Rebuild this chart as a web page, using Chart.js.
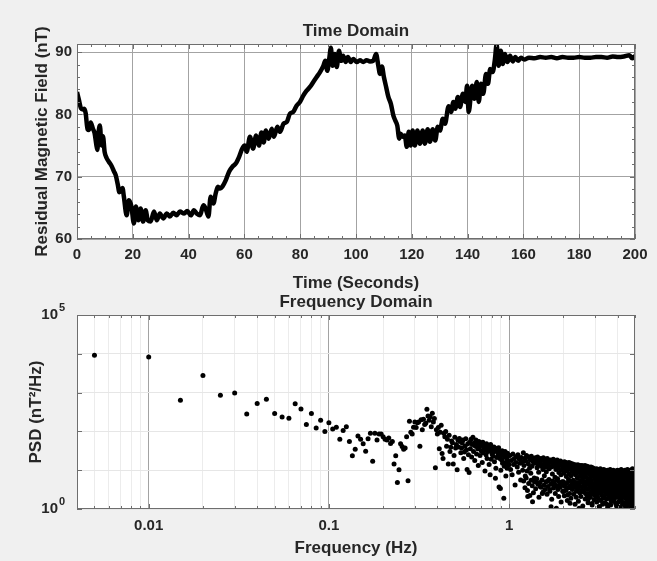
<!DOCTYPE html>
<html><head><meta charset="utf-8">
<script src="https://cdn.jsdelivr.net/npm/chart.js@4.4.1/dist/chart.umd.min.js"></script>
<style>
html,body{margin:0;padding:0;background:#f0f0f0;}
#wrap{position:relative;width:657px;height:561px;overflow:hidden;background:#f0f0f0}
#c1{position:absolute;left:0;top:0}
#c2{position:absolute;left:0;top:287px}
</style></head><body>
<div id="wrap"><canvas id="c1" width="657" height="295"></canvas><canvas id="c2" width="657" height="274"></canvas></div>
<script>
// ---------- Time domain data (seconds, nT) ----------
const timeSec = [0,0.7,1.4,2.1,2.6,3.1,3.8,4.3,4.9,5.7,6.3,6.9,7.3,7.7,8.2,8.8,9.3,9.9,10.6,11.4,
12.3,13.2,13.9,14.6,15.2,15.8,16.3,16.8,17.8,18.6,19.5,20.4,21.1,22.0,22.8,23.7,24.6,25.4,26.4,27.6,
28.6,29.7,30.9,32.2,33.3,34.5,35.7,36.9,38.4,39.5,40.8,41.9,42.9,44.1,45.3,46.1,47.1,47.9,48.9,49.7,
50.5,51.3,52.1,53.3,54.5,55.7,56.9,58.1,59.2,60.1,60.8,62.0,63.1,64.2,65.2,66.1,66.9,67.7,68.7,69.8,
70.6,71.8,72.8,74.0,75.2,76.3,77.5,78.7,79.9,81.1,82.3,83.5,84.7,85.9,87.1,88.3,89.0,89.7,90.4,91.0,
91.6,92.4,93.1,93.9,94.7,95.4,96.3,97.1,98.1,99.0,100.3,101.4,102.6,103.8,105.0,106.2,107.2,108.0,108.6,109.3,
110.0,110.8,111.6,112.5,113.4,114.1,114.8,115.5,116.0,116.7,117.5,118.2,118.9,119.6,120.3,121.1,122.0,122.9,123.9,124.7,
125.7,126.5,127.5,128.4,129.3,130.1,131.1,131.9,133.2,134.1,134.9,135.6,136.5,137.3,138.3,139.2,139.8,140.4,141.6,142.4,
143.3,144.0,144.8,145.6,146.6,147.3,148.1,149.0,149.8,150.4,151.1,151.9,152.6,153.4,154.3,155.2,156.2,157.1,158.1,159.1,
160.3,162,164,166,168,170,172,174,176,178,180,182,184,186,188,190,192,194,196,198,199,200];
const fieldNT = [83.6,82.3,81.0,80.8,80.9,80.2,77.6,77.5,78.7,77.7,77.0,75.2,74.3,77.0,78.2,75.0,76.5,74.0,73.0,72.4,
71.8,70.9,70.2,68.8,67.5,67.8,68.2,66.8,63.8,66.2,65.2,62.5,65.2,63.0,64.9,62.8,64.6,63.0,62.8,64.4,
63.0,64.1,63.3,64.1,63.6,64.2,63.8,64.4,64.1,64.5,63.8,64.6,64.1,63.8,65.4,64.9,63.6,66.8,65.7,67.3,
68.4,68.1,68.4,69.4,70.8,71.6,72.1,73.2,74.5,75.0,74.0,76.4,74.5,76.6,75.0,77.1,75.5,77.4,76.1,77.7,
76.4,78.0,77.2,78.5,78.8,80.1,80.4,81.4,82.0,83.0,83.8,84.4,85.2,86.0,86.8,87.8,88.6,87.0,88.9,90.7,
87.8,89.7,87.6,90.2,88.6,89.4,88.4,89.2,88.4,88.9,88.4,88.7,88.4,88.7,88.5,88.6,89.7,87.8,86.5,87.7,
86.0,84.4,82.8,81.7,79.8,79.0,78.2,76.1,76.9,76.4,76.6,74.8,77.2,75.0,77.4,75.0,77.4,75.3,77.4,75.3,
77.6,75.6,77.6,75.8,78.0,77.4,79.3,78.5,81.3,80.4,82.0,80.9,82.8,81.2,83.3,82.0,84.6,80.4,84.6,82.5,
85.2,82.0,84.9,83.3,86.5,84.9,87.3,86.8,88.9,91.2,87.8,90.2,88.1,89.7,88.4,89.4,88.5,89.2,88.6,89.1,
88.8,89.1,89.0,89.2,89.1,89.2,89.0,89.2,89.1,89.1,89.2,89.1,89.1,89.2,89.2,89.1,89.3,89.2,89.3,89.5,89.0,89.4];
const timeTicks = [0,20,40,60,80,100,120,140,160,180,200];
const fieldTicks = [60,70,80,90];

// ---------- Frequency domain data (Hz, log10 of PSD in nT^2/Hz) ----------
const psdFreqLow = [0.005,0.01,0.015,0.02,0.025,0.03,0.035,0.04,0.045,0.05,
0.055,0.06,0.065,0.07,0.075,0.08,0.085,0.09,0.095,0.1,
0.105,0.11,0.115,0.12,0.125,0.13,0.135,0.14,0.145,0.15,
0.155,0.16,0.165,0.17,0.175,0.18,0.185,0.19,0.195,0.2];
const psdExpLow = [3.96,3.92,2.80,3.44,2.93,2.99,2.45,2.72,2.83,2.46,
2.37,2.34,2.71,2.58,2.18,2.46,2.09,2.29,2.00,2.22,
2.06,2.11,1.80,2.02,2.12,1.74,1.37,1.54,1.88,1.80,
1.68,1.49,1.81,1.95,1.23,1.95,1.78,1.93,1.93,1.86];
const psdFreqMid = [0.205,0.21,0.215,0.22,0.225,0.23,0.235,0.24,0.245,0.25,
0.255,0.26,0.265,0.27,0.275,0.28,0.285,0.29,0.295,0.3,
0.305,0.31,0.315,0.32,0.325,0.33,0.335,0.34,0.345,0.35,
0.355,0.36,0.365,0.37,0.375,0.38,0.385,0.39,0.395,0.4,
0.405,0.41,0.415,0.42,0.425,0.43,0.435,0.44,0.445,0.45,
0.455,0.46,0.465,0.47,0.475,0.48,0.485,0.49,0.495,0.5,
0.505,0.51,0.515,0.52,0.525,0.53,0.535,0.54,0.545,0.55,
0.555,0.56,0.565,0.57,0.575,0.58,0.585,0.59,0.595,0.6,
0.605,0.61,0.615,0.62,0.625,0.63,0.635,0.64,0.645,0.65,
0.655,0.66,0.665,0.67,0.675,0.68,0.685,0.69,0.695,0.7,
0.705,0.71,0.715,0.72,0.725,0.73,0.735,0.74,0.745,0.75,
0.755,0.76,0.765,0.77,0.775,0.78,0.785,0.79,0.795,0.8,
0.805,0.81,0.815,0.82,0.825,0.83,0.835,0.84,0.845,0.85,
0.855,0.86,0.865,0.87,0.875,0.88,0.885,0.89,0.895,0.9,
0.905,0.91,0.915,0.92,0.925,0.93,0.935,0.94,0.945,0.95,
0.955,0.96,0.965,0.97,0.975,0.98,0.985,0.99,0.995,1.0];
const psdExpMid = [1.80,1.78,1.83,1.69,1.74,1.16,1.37,0.68,1.01,1.68,
1.61,1.54,1.57,1.86,0.73,2.26,1.98,1.93,2.11,2.24,
2.10,2.22,2.24,1.62,2.30,2.04,2.31,2.18,2.21,2.57,
2.40,2.29,2.38,2.12,2.47,2.24,2.33,1.06,2.04,1.93,
2.10,1.55,1.98,2.16,1.43,1.30,1.95,1.86,2.00,1.62,
1.80,1.16,1.90,1.48,1.59,1.75,1.71,1.16,1.38,1.85,
1.57,1.66,1.01,1.78,1.60,1.82,1.74,1.45,1.57,1.70,
1.78,1.30,1.47,1.62,1.81,1.52,1.02,1.68,1.40,0.94,
1.72,1.55,1.80,1.34,1.66,1.85,1.48,1.70,1.25,1.62,
1.78,1.42,1.68,1.55,1.12,1.74,1.60,1.38,1.70,1.50,
1.64,1.20,1.72,1.45,1.58,1.66,0.98,1.52,1.40,1.68,
1.30,1.60,1.48,1.62,1.15,1.55,0.88,1.66,1.28,1.50,
1.42,1.58,1.36,1.46,1.60,1.22,1.52,0.79,1.05,1.56,
1.33,1.48,1.36,1.44,1.58,0.57,1.46,1.30,0.53,1.00,
1.40,1.26,1.50,1.18,1.38,1.46,0.28,1.10,1.34,1.48,
1.20,0.85,1.42,1.30,1.05,1.44,1.24,1.12,1.38,1.15];
const psdFreqHigh = [
1.01,1.02,1.03,1.04,1.05,1.06,1.07,1.08,1.09,1.10,1.11,1.12,1.13,1.14,1.15,1.16,1.17,1.18,1.19,1.20,
1.21,1.22,1.23,1.24,1.25,1.26,1.27,1.28,1.29,1.30,1.31,1.32,1.33,1.34,1.35,1.36,1.37,1.38,1.39,1.40,
1.41,1.42,1.43,1.44,1.45,1.46,1.47,1.48,1.49,1.50,1.51,1.52,1.53,1.54,1.55,1.56,1.57,1.58,1.59,1.60,
1.61,1.62,1.63,1.64,1.65,1.66,1.67,1.68,1.69,1.70,1.71,1.72,1.73,1.74,1.75,1.76,1.77,1.78,1.79,1.80,
1.81,1.82,1.83,1.84,1.85,1.86,1.87,1.88,1.89,1.90,1.91,1.92,1.93,1.94,1.95,1.96,1.97,1.98,1.99,2.00,
2.01,2.02,2.03,2.04,2.05,2.06,2.07,2.08,2.09,2.10,2.11,2.12,2.13,2.14,2.15,2.16,2.17,2.18,2.19,2.20,
2.21,2.22,2.23,2.24,2.25,2.26,2.27,2.28,2.29,2.30,2.31,2.32,2.33,2.34,2.35,2.36,2.37,2.38,2.39,2.40,
2.41,2.42,2.43,2.44,2.45,2.46,2.47,2.48,2.49,2.50,2.51,2.52,2.53,2.54,2.55,2.56,2.57,2.58,2.59,2.60,
2.61,2.62,2.63,2.64,2.65,2.66,2.67,2.68,2.69,2.70,2.71,2.72,2.73,2.74,2.75,2.76,2.77,2.78,2.79,2.80,
2.81,2.82,2.83,2.84,2.85,2.86,2.87,2.88,2.89,2.90,2.91,2.92,2.93,2.94,2.95,2.96,2.97,2.98,2.99,3.00,
3.01,3.02,3.03,3.04,3.05,3.06,3.07,3.08,3.09,3.10,3.11,3.12,3.13,3.14,3.15,3.16,3.17,3.18,3.19,3.20,
3.21,3.22,3.23,3.24,3.25,3.26,3.27,3.28,3.29,3.30,3.31,3.32,3.33,3.34,3.35,3.36,3.37,3.38,3.39,3.40,
3.41,3.42,3.43,3.44,3.45,3.46,3.47,3.48,3.49,3.50,3.51,3.52,3.53,3.54,3.55,3.56,3.57,3.58,3.59,3.60,
3.61,3.62,3.63,3.64,3.65,3.66,3.67,3.68,3.69,3.70,3.71,3.72,3.73,3.74,3.75,3.76,3.77,3.78,3.79,3.80,
3.81,3.82,3.83,3.84,3.85,3.86,3.87,3.88,3.89,3.90,3.91,3.92,3.93,3.94,3.95,3.96,3.97,3.98,3.99,4.00,
4.01,4.02,4.03,4.04,4.05,4.06,4.07,4.08,4.09,4.10,4.11,4.12,4.13,4.14,4.15,4.16,4.17,4.18,4.19,4.20,
4.21,4.22,4.23,4.24,4.25,4.26,4.27,4.28,4.29,4.30,4.31,4.32,4.33,4.34,4.35,4.36,4.37,4.38,4.39,4.40,
4.41,4.42,4.43,4.44,4.45,4.46,4.47,4.48,4.49,4.50,4.51,4.52,4.53,4.54,4.55,4.56,4.57,4.58,4.59,4.60,
4.61,4.62,4.63,4.64,4.65,4.66,4.67,4.68,4.69,4.70,4.71,4.72,4.73,4.74,4.75,4.76,4.77,4.78,4.79,4.80,
4.81,4.82,4.83,4.84,4.85,4.86,4.87,4.88,4.89,4.90,4.91,4.92,4.93,4.94,4.95,4.96,4.97,4.98,4.99,5.00];
const psdExpHigh = [
1.38,1.02,1.25,0.88,1.42,1.15,1.30,0.62,1.20,1.35,1.08,1.40,0.95,1.28,1.18,0.75,1.33,1.22,1.00,1.45,
1.12,1.30,0.85,1.24,1.38,0.98,0.32,1.16,1.34,1.05,1.26,0.92,1.36,1.10,0.19,1.22,1.30,0.80,1.18,1.32,
0.70,1.24,1.06,1.34,1.14,0.95,1.28,1.20,0.58,1.30,1.10,1.26,0.40,1.02,1.32,1.16,0.86,1.22,1.08,1.28,
0.96,1.18,1.30,0.72,1.12,1.24,1.04,0.50,1.20,1.26,0.06,1.08,1.22,0.90,1.16,1.28,0.66,1.10,1.20,0.82,
1.24,1.02,0.02,1.14,1.26,0.78,1.06,1.18,0.94,1.22,0.60,1.12,1.24,0.88,1.00,1.20,0.70,1.16,1.06,0.45,
1.18,0.92,1.22,1.04,0.64,1.14,1.20,0.84,0.98,1.10,0.36,1.16,1.02,0.76,1.20,0.90,1.12,0.15,1.06,1.18,
0.86,1.14,0.98,0.56,1.10,1.16,0.74,1.04,0.92,1.12,1.00,0.68,1.14,0.88,1.06,0.30,1.12,0.96,0.80,1.08,
1.14,0.62,0.94,1.10,0.02,1.02,0.84,1.12,0.72,0.98,1.08,0.90,0.48,1.12,1.00,0.78,1.06,0.94,0.58,1.10,
0.86,1.04,0.70,1.12,0.96,0.40,1.08,0.82,1.00,0.64,1.10,0.92,0.76,1.04,0.26,0.98,1.08,0.68,0.90,1.06,
0.80,1.02,0.56,0.94,1.08,0.72,0.88,1.04,0.10,0.98,1.06,0.66,0.92,1.00,0.84,0.44,1.04,0.78,0.96,0.60,
1.02,0.86,0.70,0.98,0.52,1.04,0.82,0.92,0.34,1.00,0.74,0.96,1.02,0.62,0.88,0.80,0.06,0.98,0.70,0.94,
1.04,0.58,0.84,0.94,0.76,1.00,0.46,0.90,0.66,0.98,0.82,0.28,0.96,0.72,1.02,0.88,0.54,0.94,0.80,0.64,
1.00,0.76,0.90,0.40,0.98,0.68,0.86,0.92,0.12,0.96,0.84,0.62,1.00,0.78,0.50,0.94,0.88,0.70,0.98,0.36,
0.92,0.80,0.66,1.02,0.86,0.56,0.94,0.74,0.20,0.96,0.70,0.88,0.98,0.60,0.84,0.44,0.92,0.78,1.00,0.66,
0.90,0.52,0.82,0.96,0.72,0.30,0.88,0.64,0.94,0.80,0.58,0.98,0.76,0.86,0.08,0.92,0.68,0.84,0.48,1.00,
0.78,0.90,0.62,0.96,0.70,0.40,0.86,0.94,0.56,0.82,0.98,0.66,0.24,0.88,0.76,0.92,0.50,0.84,1.02,0.72,
0.60,0.94,0.80,0.36,0.90,0.68,0.86,0.14,0.96,0.74,0.88,0.54,0.98,0.78,0.64,0.92,0.44,0.84,0.70,1.00,
0.62,0.86,0.28,0.94,0.76,0.90,0.52,0.82,0.06,0.96,0.72,0.88,0.60,1.02,0.80,0.38,0.92,0.68,0.86,0.46,
0.94,0.74,0.84,0.18,0.98,0.66,0.90,0.56,0.82,1.00,0.70,0.32,0.92,0.78,0.88,0.50,0.96,0.64,0.10,0.86,
0.76,0.94,0.58,1.04,0.42,0.88,0.72,0.84,0.22,0.96,0.66,0.90,0.80,0.14,1.00,0.54,0.86,0.74,0.30,0.92];
// lower part of the high-frequency cloud (odd 0.005 Hz bins)
const psdFreqLowerCloud = [
1.205,1.225,1.245,1.265,1.285,1.305,1.325,1.345,1.365,1.385,
1.405,1.425,1.445,1.465,1.485,1.505,1.525,1.545,1.565,1.585,
1.605,1.625,1.645,1.665,1.685,1.705,1.725,1.745,1.765,1.785,
1.805,1.825,1.845,1.865,1.885,1.905,1.925,1.945,1.965,1.985,
2.005,2.025,2.045,2.065,2.085,2.105,2.125,2.145,2.165,2.185,
2.205,2.225,2.245,2.265,2.285,2.305,2.325,2.345,2.365,2.385,
2.405,2.425,2.445,2.465,2.485,2.505,2.525,2.545,2.565,2.585,
2.605,2.625,2.645,2.665,2.685,2.705,2.725,2.745,2.765,2.785,
2.805,2.825,2.845,2.865,2.885,2.905,2.925,2.945,2.965,2.985,
3.005,3.025,3.045,3.065,3.085,3.105,3.125,3.145,3.165,3.185,
3.205,3.225,3.245,3.265,3.285,3.305,3.325,3.345,3.365,3.385,
3.405,3.425,3.445,3.465,3.485,3.505,3.525,3.545,3.565,3.585,
3.605,3.625,3.645,3.665,3.685,3.705,3.725,3.745,3.765,3.785,
3.805,3.825,3.845,3.865,3.885,3.905,3.925,3.945,3.965,3.985,
4.005,4.025,4.045,4.065,4.085,4.105,4.125,4.145,4.165,4.185,
4.205,4.225,4.245,4.265,4.285,4.305,4.325,4.345,4.365,4.385,
4.405,4.425,4.445,4.465,4.485,4.505,4.525,4.545,4.565,4.585,
4.605,4.625,4.645,4.665,4.685,4.705,4.725,4.745,4.765,4.785,
4.805,4.825,4.845,4.865,4.885,4.905,4.925,4.945,4.965,4.985];
const psdExpLowerCloud = [
0.72,0.55,0.80,0.48,0.66,0.35,0.74,0.60,0.42,0.70,
0.52,0.78,0.64,0.30,0.68,0.56,0.75,0.44,0.62,0.50,
0.70,0.38,0.58,0.76,0.46,0.64,0.25,0.72,0.54,0.66,
0.40,0.60,0.74,0.50,0.32,0.68,0.56,0.18,0.62,0.46,
0.70,0.34,0.58,0.48,0.66,0.22,0.54,0.72,0.40,0.60,
0.28,0.64,0.50,0.70,0.38,0.56,0.12,0.62,0.46,0.68,
0.52,0.20,0.66,0.42,0.58,0.32,0.70,0.48,0.08,0.60,
0.44,0.62,0.26,0.54,0.68,0.36,0.50,0.16,0.64,0.40,
0.58,0.30,0.66,0.46,0.14,0.56,0.38,0.62,0.24,0.50,
0.34,0.60,0.44,0.18,0.54,0.66,0.28,0.48,0.06,0.58,
0.42,0.22,0.62,0.36,0.52,0.12,0.46,0.64,0.30,0.56,
0.16,0.50,0.38,0.60,0.26,0.44,0.04,0.54,0.34,0.62,
0.48,0.28,0.56,0.10,0.40,0.64,0.32,0.52,0.20,0.46,
0.58,0.24,0.44,0.36,0.60,0.14,0.50,0.30,0.54,0.08,
0.40,0.62,0.18,0.48,0.34,0.56,0.26,0.04,0.52,0.38,
0.22,0.54,0.44,0.12,0.60,0.30,0.48,0.36,0.16,0.58,
0.46,0.06,0.52,0.32,0.42,0.20,0.62,0.38,0.10,0.50,
0.28,0.56,0.14,0.44,0.36,0.60,0.24,0.02,0.48,0.34,
0.54,0.18,0.40,0.30,0.58,0.12,0.46,0.26,0.06,0.50];
const freqTickValues = [0.01,0.1,1];
const freqTickLabels = ['0.01','0.1','1'];
const psdDecades = [1,10,100,1000,10000,100000];
const psdTickValues = [1,100000];
const psdTickBase = ['10','10'];
const psdTickExponents = ['0','5'];

// ---------- styling ----------
const FONT = "'Liberation Sans', Arial, Helvetica, sans-serif";
const TXT = '#262626';
const BOX = '#6e6e6e';
const tickFont = {family:FONT, size:15, weight:'bold', lineHeight:1.2};
const titleFont = {family:FONT, size:17, weight:'bold', lineHeight:1.2};

const framePlugin = {
  id:'frame',
  beforeDraw(chart){
    const a = chart.chartArea, c = chart.ctx;
    c.save(); c.fillStyle = '#ffffff';
    c.fillRect(a.left, a.top, a.right - a.left, a.bottom - a.top);
    c.restore();
  },
  afterDatasetsDraw(chart, args, o){
    const a = chart.chartArea, c = chart.ctx, sx = chart.scales.x, sy = chart.scales.y;
    c.save(); c.strokeStyle = BOX; c.lineWidth = 1;
    c.beginPath();
    (o.xMarks || []).forEach(([v, len]) => {
      const p = Math.round(sx.getPixelForValue(v)) + 0.5;
      c.moveTo(p, a.bottom); c.lineTo(p, a.bottom - len);
      c.moveTo(p, a.top); c.lineTo(p, a.top + len);
    });
    (o.yMarks || []).forEach(([v, len]) => {
      const p = Math.round(sy.getPixelForValue(v)) + 0.5;
      c.moveTo(a.left, p); c.lineTo(a.left + len, p);
      c.moveTo(a.right, p); c.lineTo(a.right - len, p);
    });
    c.stroke();
    c.strokeRect(Math.round(a.left) + 0.5, Math.round(a.top) + 0.5,
                 Math.round(a.right - a.left) - 1, Math.round(a.bottom - a.top) - 1);
    c.restore();
  },
  afterDraw(chart, args, o){
    if (!o.exponents) return;
    const c = chart.ctx, sy = chart.scales.y;
    c.save();
    c.fillStyle = TXT; c.font = "bold 11px " + FONT; c.textAlign = 'left'; c.textBaseline = 'middle';
    o.exponents.forEach(([v, txt]) => { c.fillText(txt, 59, sy.getPixelForValue(v) - 7); });
    c.restore();
  }
};

// minor tick marks (style only)
const timeMarks = []; for (let v = 0; v <= 200; v += 5) timeMarks.push([v, v % 20 === 0 ? 5 : 3]);
const fieldMarks = []; for (let v = 60; v <= 90; v += 2) fieldMarks.push([v, v % 10 === 0 ? 5 : 3]);
const freqGrid = [];
[0.001, 0.01, 0.1, 1].forEach(d => { for (let m = 1; m <= 9; m++) { const v = +(m * d).toPrecision(6); if (v >= 0.004 && v <= 5) freqGrid.push(v); } });
const isDecade = v => Math.abs(Math.log10(v) - Math.round(Math.log10(v))) < 1e-6;
const freqMarks = freqGrid.map(v => [v, isDecade(v) ? 5 : 3]);
const psdMarks = psdDecades.map(v => [v, 5]);

// ---------- chart 1 : time domain ----------
new Chart(document.getElementById('c1'), {
  type: 'line',
  data: { datasets: [{
    data: timeSec.map((t, i) => ({x: t, y: fieldNT[i]})),
    borderColor: '#000', borderWidth: 4.5, pointRadius: 0,
    cubicInterpolationMode: 'monotone', fill: false
  }]},
  options: {
    responsive: false, animation: false, devicePixelRatio: 1,
    layout: {autoPadding: false, padding: {left: 0, right: 22, top: 0, bottom: 0}},
    plugins: {
      legend: {display: false}, tooltip: {enabled: false},
      title: {display: true, text: 'Time Domain', color: TXT, font: titleFont,
              padding: {top: 21.3, bottom: 2.3}, fullSize: false},
      frame: {xMarks: timeMarks, yMarks: fieldMarks}
    },
    scales: {
      x: {
        type: 'linear', min: 0, max: 200,
        afterBuildTicks: s => { s.ticks = timeTicks.map(v => ({value: v})); },
        afterFit: s => { s.height = 56; },
        grid: {color: '#a3a3a3', drawTicks: false, lineWidth: 1},
        border: {display: false},
        ticks: {padding: 7, color: TXT, font: tickFont, maxRotation: 0, autoSkip: false},
        title: {display: true, text: 'Time (Seconds)', color: TXT, font: titleFont, padding: {top: 0, bottom: 1.8}}
      },
      y: {
        type: 'linear', min: 60, max: 91.3,
        afterBuildTicks: s => { s.ticks = fieldTicks.map(v => ({value: v})); },
        afterFit: s => { s.width = 77; },
        grid: {color: '#a3a3a3', drawTicks: false, lineWidth: 1},
        border: {display: false},
        ticks: {padding: 5, color: TXT, font: tickFont, autoSkip: false},
        title: {display: true, text: 'Residual Magnetic Field (nT)', color: TXT, font: titleFont, padding: {top: 31.8, bottom: 0}}
      }
    }
  },
  plugins: [framePlugin]
});

// ---------- chart 2 : frequency domain ----------
const psdFreq = psdFreqLow.concat(psdFreqMid, psdFreqHigh, psdFreqLowerCloud);
const psdExp = psdExpLow.concat(psdExpMid, psdExpHigh, psdExpLowerCloud);
new Chart(document.getElementById('c2'), {
  type: 'scatter',
  data: { datasets: [{
    data: psdFreq.map((f, i) => ({x: f, y: Math.pow(10, psdExp[i])})),
    backgroundColor: '#000', borderWidth: 0, pointRadius: 2.5, pointHoverRadius: 2.5
  }]},
  options: {
    responsive: false, animation: false, devicePixelRatio: 1,
    layout: {autoPadding: false, padding: {left: 0, right: 22, top: 0, bottom: 0}},
    plugins: {
      legend: {display: false}, tooltip: {enabled: false},
      title: {display: true, text: 'Frequency Domain', color: TXT, font: titleFont,
              padding: {top: 5.3, bottom: 2.3}, fullSize: false},
      frame: {xMarks: freqMarks, yMarks: psdMarks,
              exponents: psdTickValues.map((v, i) => [v, psdTickExponents[i]])}
    },
    scales: {
      x: {
        type: 'logarithmic', min: 0.004, max: 5,
        afterBuildTicks: s => { s.ticks = freqGrid.map(v => ({value: v})); },
        afterFit: s => { s.height = 52; },
        grid: {color: c => (c.tick && isDecade(c.tick.value)) ? '#a3a3a3' : '#ececec', drawTicks: false, lineWidth: 1},
        border: {display: false},
        ticks: {
          padding: 8, color: TXT, font: tickFont, maxRotation: 0, autoSkip: false,
          callback: v => { const i = freqTickValues.findIndex(t => Math.abs(t - v) / t < 1e-6); return i >= 0 ? freqTickLabels[i] : ''; }
        },
        title: {display: true, text: 'Frequency (Hz)', color: TXT, font: titleFont, padding: {top: 0, bottom: 2.8}}
      },
      y: {
        type: 'logarithmic', min: 1, max: 100000,
        afterBuildTicks: s => { s.ticks = psdDecades.map(v => ({value: v})); },
        afterFit: s => { s.width = 77; },
        grid: {color: '#e6e6e6', drawTicks: false, lineWidth: 1},
        border: {display: false},
        ticks: {
          padding: 19, color: TXT, font: tickFont, autoSkip: false,
          callback: v => { const i = psdTickValues.findIndex(t => Math.abs(t - v) / t < 1e-6); return i >= 0 ? psdTickBase[i] : ''; }
        },
        title: {display: true, text: 'PSD (nT\u00B2/Hz)', color: TXT, font: titleFont, padding: {top: 25.8, bottom: 0}}
      }
    }
  },
  plugins: [framePlugin]
});
</script>
</body></html>
